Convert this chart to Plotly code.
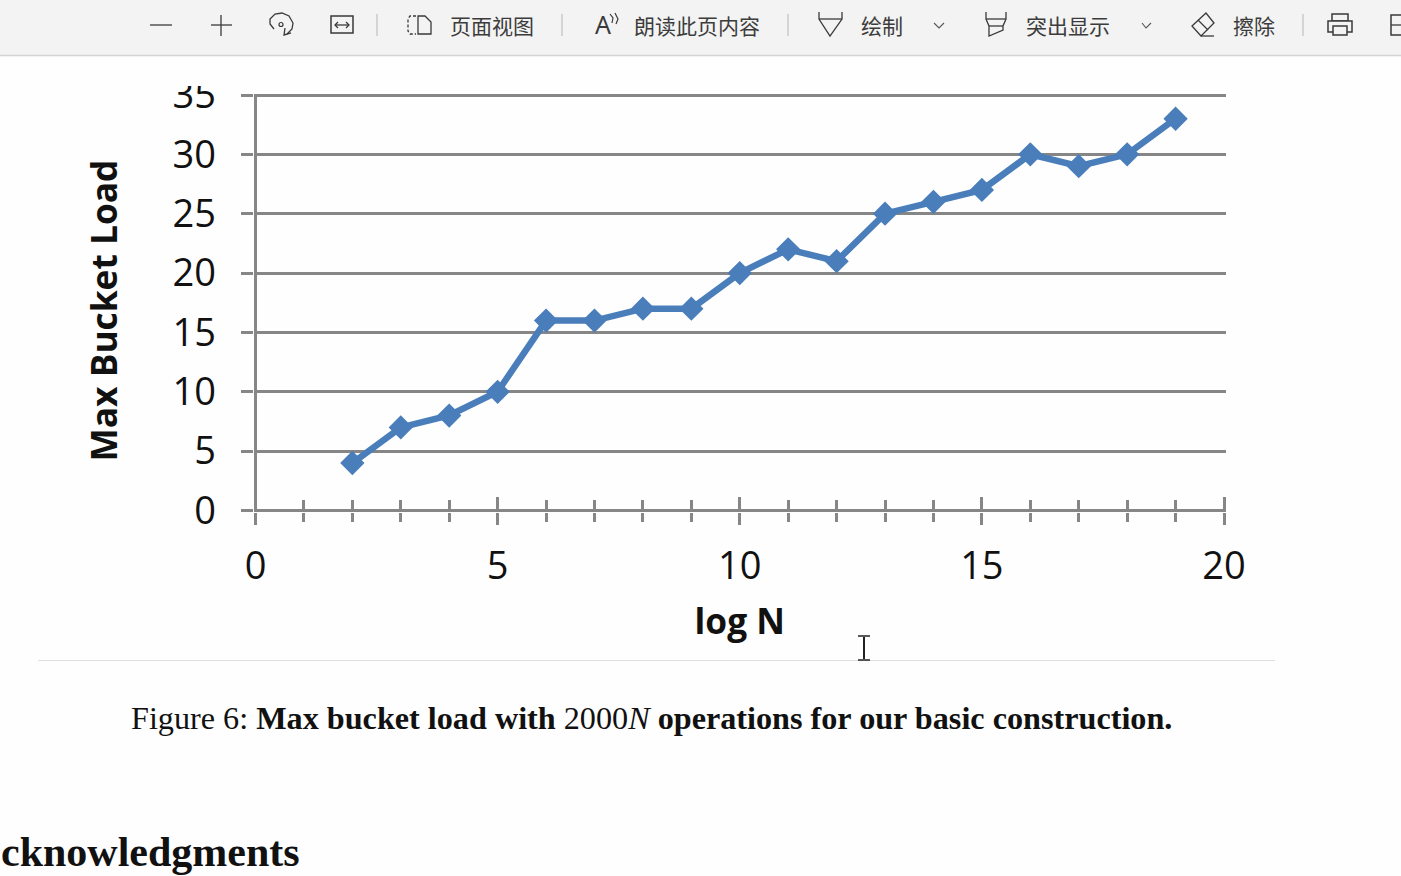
import plotly.graph_objects as go

# ---- data ----
log_n = [2, 3, 4, 5, 6, 7, 8, 9, 10, 11, 12, 13, 14, 15, 16, 17, 18, 19]
max_load = [4, 7, 8, 10, 16, 16, 17, 17, 20, 22, 21, 25, 26, 27, 30, 29, 30, 33]
x_ticks = [0, 5, 10, 15, 20]
y_ticks = [0, 5, 10, 15, 20, 25, 30, 35]
toolbar_labels = [("页面视图", 492), ("朗读此页内容", 697), ("绘制", 881.5), ("突出显示", 1067.5), ("擦除", 1254)]

W, H = 1401, 876
GREY = "#868686"
BLUE = "#4a7ebb"
ICON = "#3a3a3a"

# pixel frame of the chart: a small pad keeps the end ticks and gridlines from being clipped
PAD = 1.5
X_LEFT, X_RIGHT = 255.5, 1224.0
Y_ZERO, Y_TOP = 510.5, 95.0
x_unit = (X_RIGHT - X_LEFT) / 20
y_unit = (Y_ZERO - Y_TOP) / 35


def X(p):
    return p / W


def Y(p):
    return 1 - p / H


def rect(x0, y0, x1, y1, fill, line=None, width=0):
    return dict(type="rect", xref="paper", yref="paper", x0=X(x0), x1=X(x1), y0=Y(y1), y1=Y(y0),
                fillcolor=fill, line=dict(color=line or fill, width=width), layer="above")


def seg(x0, y0, x1, y1, color=ICON, width=1.3):
    return dict(type="line", xref="paper", yref="paper", x0=X(x0), x1=X(x1), y0=Y(y0), y1=Y(y1),
                line=dict(color=color, width=width), layer="above")


def poly(points, color=ICON, width=1.3, close=False, dash="solid"):
    d = "M " + " L ".join(f"{X(a):.5f},{Y(b):.5f}" for a, b in points)
    if close:
        d += " Z"
    return dict(type="path", xref="paper", yref="paper", path=d,
                line=dict(color=color, width=width, dash=dash), layer="above")


shapes = [
    rect(0, 56, W, 86, "#fefefe"),
    rect(0, 0, W, 55, "#f3f3f3"),
    seg(0, 55.5, W, 55.5, "#d4d4d4", 1.5),
    seg(38, 660.5, 1275, 660.5, "#dedede", 1),
    # separators
    seg(377, 14, 377, 36, "#c4c4c4"), seg(562, 14, 562, 36, "#c4c4c4"),
    seg(788, 14, 788, 36, "#c4c4c4"), seg(1303, 14, 1303, 36, "#c4c4c4"),
    # minus, plus
    seg(150, 25, 172, 25), seg(211, 25, 232, 25), seg(221, 15, 221, 36),
    # rotate
    poly([(274, 29), (270, 24), (270, 19), (275, 14), (282, 13), (289, 16), (293, 23), (292, 29), (287, 34)]),
    poly([(285, 28), (284, 35), (291, 33)]),
    dict(type="circle", xref="paper", yref="paper", x0=X(279), x1=X(283), y0=Y(26.5), y1=Y(22.5),
         line=dict(color=ICON, width=1.2), fillcolor="#f3f3f3", layer="above"),
    # fit width
    rect(331, 16, 353, 33, "#f3f3f3", ICON, 1.5),
    seg(335, 25, 349, 25),
    poly([(338, 22), (335, 25), (338, 28)]), poly([(346, 22), (349, 25), (346, 28)]),
    # page view
    poly([(416, 16), (410, 16), (408, 19), (408, 31), (410, 34), (416, 34)], width=1.3, dash="3px,2px"),
    poly([(418, 16), (425, 16), (431, 22), (431, 34), (418, 34)], width=1.3, close=True),
    # read aloud extra
    poly([(610, 14), (613, 18), (612, 23)], width=1.2),
    poly([(615, 13), (618, 19), (616, 24)], width=1.2),
    # draw
    poly([(819, 12), (819, 19), (830, 36), (842, 19), (842, 12)]), seg(819, 19, 842, 19),
    poly([(934, 23), (939, 28), (944, 23)], width=1.1, color="#555555"),
    # highlight
    poly([(986, 12), (986, 19), (989, 26), (989, 36), (1003, 30), (1003, 26), (1006, 19), (1006, 12)]),
    seg(986, 19, 1006, 19), seg(989, 26, 1003, 26),
    poly([(1142, 23), (1146, 28), (1151, 23)], width=1.1, color="#555555"),
    # eraser
    poly([(1192, 26), (1206, 13), (1214, 23), (1201, 36)], close=True), seg(1198, 20, 1208, 30),
    seg(1201, 36, 1214, 36),
    # printer
    rect(1332, 14, 1348, 21, "#f3f3f3", ICON, 1.5),
    rect(1328, 21, 1352, 32, "#f3f3f3", ICON, 1.5),
    rect(1333, 26, 1347, 35, "#f3f3f3", ICON, 1.5),
    # save (clipped)
    rect(1391, 15, 1410, 35, "#f3f3f3", ICON, 1.5),
    seg(1391, 25, 1401, 25),
    # text cursor
    seg(864, 637, 864, 659, "#222222", 2), seg(858, 636, 870, 636, "#222222", 1.5),
    seg(858, 660, 870, 660, "#222222", 1.5),
]

annotations = [
    dict(x=X(lx), y=Y(25), xref="paper", yref="paper", text=t, showarrow=False, xanchor="center", yanchor="middle",
         font=dict(family="Noto Sans CJK SC", size=21, color="#3c3c3c"))
    for t, lx in toolbar_labels
]
annotations += [
    dict(x=X(603), y=Y(24), xref="paper", yref="paper", text="A", showarrow=False, xanchor="center",
         yanchor="middle", font=dict(family="Noto Sans", size=25, color="#3a3a3a")),
    dict(x=X(651), y=Y(718), xref="paper", yref="paper", showarrow=False, xanchor="center", yanchor="middle",
         text="Figure 6: <b>Max bucket load with</b> 2000<i>N</i> <b>operations for our basic construction.</b>",
         font=dict(family="Liberation Serif", size=32.2, color="#111111")),
    dict(x=X(-1), y=Y(852), xref="paper", yref="paper", showarrow=False, xanchor="left", yanchor="middle",
         text="<b>cknowledgments</b>", font=dict(family="Liberation Serif", size=42, color="#111111")),
    dict(x=X(102.5), y=Y(311), xref="paper", yref="paper", showarrow=False, xanchor="center", yanchor="middle",
         textangle=-90, text="<b>Max Bucket Load</b>",
         font=dict(family="Open Sans", size=35.3, color="#111111")),
]

fig = go.Figure()
fig.add_trace(go.Scatter(
    x=log_n, y=max_load, mode="lines+markers", cliponaxis=False, showlegend=False,
    line=dict(color=BLUE, width=6.5),
    marker=dict(symbol="diamond", size=16.5, color=BLUE, line=dict(color=BLUE, width=2)),
))
# second x axis: draws the other half of each crossing tick
fig.add_trace(go.Scatter(x=[None], y=[None], xaxis="x2", showlegend=False, hoverinfo="skip"))

tick_font = dict(family="Open Sans", size=38, color="#111111")
x_common = dict(range=[-PAD / x_unit, 20 + PAD / x_unit], domain=[X(X_LEFT - PAD), X(X_RIGHT + PAD)],
                showgrid=False, zeroline=True, zerolinecolor=GREY, zerolinewidth=3.2, tickmode="array",
                tickvals=x_ticks, tickwidth=3, tickcolor=GREY, showline=False)
minor_vals = [v for v in range(1, 20) if v % 5]

fig.update_layout(
    width=W, height=H, autosize=False,
    margin=dict(l=0, r=0, t=0, b=0, autoexpand=False),
    paper_bgcolor="#fefefe", plot_bgcolor="#fefefe",
    showlegend=False,
    shapes=shapes, annotations=annotations,
    xaxis=dict(**x_common, ticks="outside", ticklen=12 - PAD + 1, ticklabelstandoff=9, tickfont=tick_font,
               minor=dict(tickmode="array", tickvals=minor_vals, ticks="outside", ticklen=10 - PAD,
                          tickwidth=3, tickcolor=GREY),
               title=dict(text="<b>log N</b>", standoff=20,
                          font=dict(family="Open Sans", size=35.3, color="#111111"))),
    xaxis2=dict(**x_common, overlaying="x", anchor="y", side="bottom", ticks="inside", ticklen=14 + PAD,
                showticklabels=False,
                minor=dict(tickmode="array", tickvals=minor_vals, ticks="inside", ticklen=11 + PAD,
                           tickwidth=3, tickcolor=GREY)),
    yaxis=dict(range=[-PAD / y_unit, 35 + PAD / y_unit], domain=[Y(Y_ZERO + PAD), Y(Y_TOP - PAD)],
               tickmode="array", tickvals=y_ticks, ticks="outside",
               ticklen=14 - PAD, tickwidth=3, tickcolor=GREY, showgrid=True, gridcolor=GREY, gridwidth=3.2,
               zeroline=True, zerolinecolor=GREY, zerolinewidth=3.2,
               showline=False, tickfont=tick_font, ticklabelstandoff=17),
)

fig.write_html("out.html", config=dict(displayModeBar=False),
               post_script="document.body.style.margin='0';document.body.style.overflow='hidden';")
